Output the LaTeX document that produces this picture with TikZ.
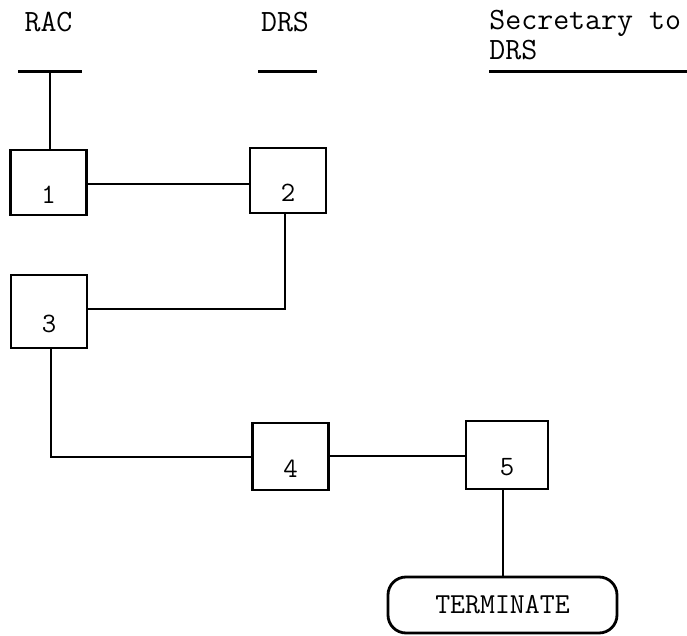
\documentclass[tikz,border=0pt]{standalone}
\usepackage{fontspec}
\usetikzlibrary{positioning}

\begin{document}
\begin{tikzpicture}[x=0.5pt, y=-0.5pt,
        head/.style={inner sep=0pt, font=\ttfamily\fontsize{15.5}{15}\selectfont},
        rule/.style={line width=1.5pt},
        box/.style={draw, line width=1.4pt, minimum width=38pt, minimum height=32.5pt, inner sep=0pt},
        num/.style={font=\ttfamily\fontsize{14}{16}\selectfont, yshift=-6pt},
        term/.style={draw, line width=1.4pt, rounded corners=9pt, minimum width=114.5pt, minimum height=28pt, font=\ttfamily\fontsize{14.5}{16}\selectfont},
        link/.style={line width=1pt}]
    \useasboundingbox (0,0) rectangle (687,636);

    % headings
    \node[head] (rac) at (48.5,22) {RAC};
    \node[head] (drs) at (285,22) {DRS};
    \node[head, anchor=west, align=left] (sec) at (489,35) {Secretary to\\DRS};
    \coordinate (racL) at (18,72);  \coordinate (racR) at (82,72);
    \coordinate (drsL) at (258,72); \coordinate (drsR) at (317,72);
    \coordinate (secL) at (489,72); \coordinate (secR) at (687,72);
    \draw[rule] (racL) -- (racR);
    \draw[rule] (drsL) -- (drsR);
    \draw[rule] (secL) -- (secR);
    \coordinate (racT) at (50,72);

    % steps
    \node[box, label={[num]center:1}] (b1) at (48.5,182.5) {};
    \node[box, label={[num]center:2}] (b2) at (288,180.5) {};
    \node[box, minimum height=36.5pt, label={[num]center:3}] (b3) at (49,311.5) {};
    \node[box, minimum height=33.5pt, label={[num]center:4}] (b4) at (290.5,456.5) {};
    \node[box, minimum width=41pt, minimum height=34pt, label={[num]center:5}] (b5) at (507,455) {};
    \node[term] (end) at (502.5,605) {TERMINATE};

    \draw[link] (racT) -- (racT |- b1.north);
    \draw[link] (b1.east |- 0,184) -- (b2.west |- 0,184);
    \draw[link] (b2.south -| 285,0) |- (b3.east |- 0,309);
    \draw[link] (b3.south -| 51,0) |- (b4.west |- 0,457);
    \draw[link] (b4.east |- 0,456) -- (b5.west |- 0,456);
    \draw[link] (end.north |- b5.south) -- (end.north);
\end{tikzpicture}
\end{document}
